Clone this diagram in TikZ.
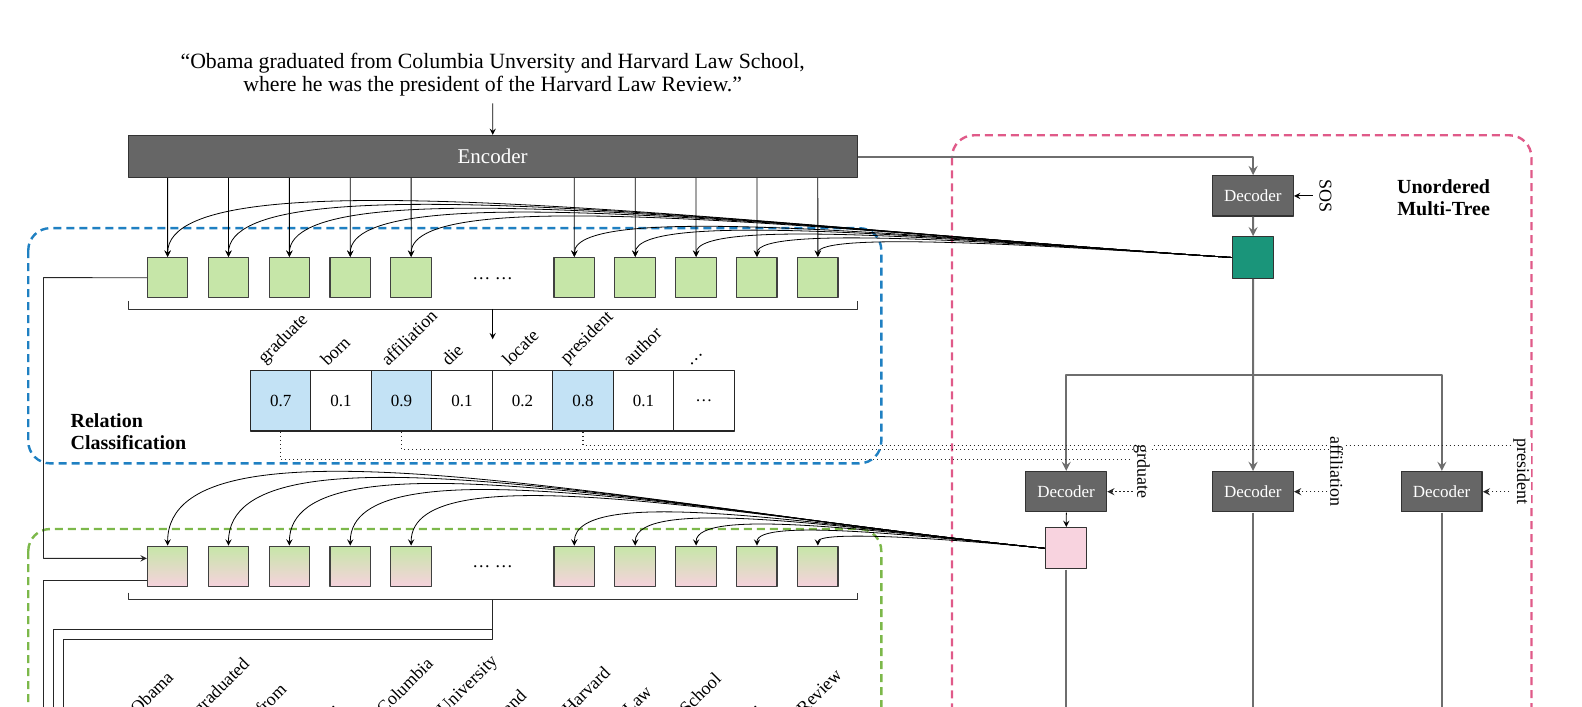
\documentclass[tikz,border=0pt]{standalone}
\usepackage{fontspec}
\setmainfont{Liberation Serif}
\usetikzlibrary{positioning,calc}
\definecolor{encgray}{HTML}{666666}
\definecolor{boxgreen}{HTML}{C6E6A8}
\definecolor{boxpink}{HTML}{F6D2DD}
\definecolor{relblue}{HTML}{C3E2F5}
\definecolor{rootteal}{HTML}{1A957A}
\definecolor{leafpink}{HTML}{F8D3DF}
\definecolor{rcblue}{HTML}{1F80C2}
\definecolor{tokgreen}{HTML}{7CB84A}
\definecolor{treepink}{HTML}{E05A89}
\definecolor{treegray}{HTML}{6E6E6E}
\tikzset{
	tok/.style={draw=black!75, line width=.6pt, fill=boxgreen, minimum width=20.2pt, minimum height=20.2pt, inner sep=0pt},
	tokmix/.style={tok, top color=boxgreen, bottom color=boxpink},
	dec/.style={draw=black!80, line width=.6pt, fill=encgray, text=white, minimum width=40.4pt, minimum height=20.2pt, font=\fontsize{8.5}{10}\selectfont},
	cell/.style={draw=black!85, line width=.6pt, minimum size=30.3pt, inner sep=0pt, font=\fontsize{8.5}{10}\selectfont},
	region/.style={line width=1.2pt, rounded corners=11pt, dash pattern=on 4pt off 2.5pt},
	tree/.style={treegray, line width=1pt},
	treearr/.style={tree, ->},
	dots/.style={black!85, line width=.6pt, dash pattern=on .6pt off 1.4pt, ->},
	rellab/.style={rotate=-90, fill=white, inner sep=.5pt}
}
\begin{document}
\begin{tikzpicture}[x=.5pt, y=-.5pt, scale=1.0095, >=stealth, line join=round, font=\fontsize{9}{10.8}\selectfont]
	\useasboundingbox (0,0) rectangle (1567.1,699.4);
	% vùng nét đứt
	\draw[region, rcblue] (28,226) rectangle (873,459);
	\draw[region, tokgreen] (28,524) rectangle (873,790);
	\draw[region, treepink] (943,134) rectangle (1517,790);
	
	\node[align=center, font=\fontsize{10.9}{11.6}\selectfont] (sent) at (488,74) {“Obama graduated from Columbia Unversity and Harvard Law School,\\ where he was the president of the Harvard Law Review.”};
	\node[draw=black!80, line width=.6pt, fill=encgray, text=white, minimum width=364.5pt, minimum height=21pt, font=\fontsize{10.5}{12}\selectfont] (enc) at (488,155) {Encoder};
	\draw[->] (sent) -- (enc);
	
	% hai hàng token
	\foreach \i/\x in {1/166,2/226.3,3/286.6,4/346.9,5/407.2,6/568.8,7/629.1,8/689.4,9/749.7,10/810}{
		\node[tok] (g\i) at (\x,275) {};
		\node[tokmix] (h\i) at (\x,561) {};
		\draw[->] (g\i |- enc.south) -- (g\i);
	}
	\node at (488,276) {\ldots\ \ldots};
	\node at (488,561) {\ldots\ \ldots};
	\draw[black!80] (127,298) -- (127,306) -- (849,306) -- (849,298);
	\draw[black!80] (127,587) -- (127,594) -- (849,594) -- (849,587);
	\coordinate (b1) at (488,306);
	\coordinate (b2) at (488,594);
	\coordinate (rtop) at (488,336);
	\draw[->] (b1) -- (rtop);
	
	% bảng phân loại quan hệ
	\foreach \v/\c/\r [count=\k] in {0.7/relblue/graduate, 0.1/white/born, 0.9/relblue/affiliation, 0.1/white/die, 0.2/white/locate, 0.8/relblue/president, 0.1/white/author, \ldots/white/\ldots}{
		\node[cell, fill=\c] (r\k) at ({278+59.9*(\k-1)},397) {\v};
		\node[rotate=45, anchor=south west, inner sep=1pt] at ({265+59.9*(\k-1)},367) {\r};
	}
	\node[align=left, anchor=west, font=\bfseries\fontsize{10}{11}\selectfont] (rc) at (63,428) {Relation\\Classification};
	
	% cây giải mã
	\node[dec] (d0) at (1241,194) {Decoder};
	\node[draw=black!80, line width=.6pt, fill=rootteal, minimum size=20.7pt, inner sep=0pt] (rt) at (1241,255) {};
	\node[dec] (d1) at (1056,487) {Decoder};
	\node[dec] (d2) at (1241,487) {Decoder};
	\node[dec] (d3) at (1428,487) {Decoder};
	\node[draw=black!80, line width=.6pt, fill=leafpink, minimum size=20.7pt, inner sep=0pt] (lf) at (1056,543) {};
	\node[rotate=-90] (sos) at (1313,194) {SOS};
	\node[align=center, font=\bfseries\fontsize{10}{11}\selectfont] (umt) at (1430,196) {Unordered\\Multi-Tree};
	\coordinate (sp) at (1241,371);
	\draw[treearr] (enc.east) -| (d0);
	\draw[treearr] (d0) -- (rt);
	\draw[tree] (rt) -- (sp);
	\draw[treearr] (sp) -| (d1);
	\draw[treearr] (sp) -- (d2);
	\draw[treearr] (sp) -| (d3);
	\draw[->] (sos.south) -- (d0.east);
	\draw[->] (d1) -- (lf);
	\draw[tree] (lf.south) -- ++(0,200);
	\draw[tree] (d2.south) -- ++(0,250);
	\draw[tree] (d3.south) -- ++(0,250);
	
	% đường cong về các token
	\foreach \i/\x in {1/166,2/226.3,3/286.6,4/346.9,5/407.2,6/568.8,7/629.1,8/689.4,9/749.7,10/810}{
		\pgfmathsetmacro{\da}{1221-\x}
		\pgfmathsetmacro{\db}{1035-\x}
		\draw[->] (rt.west) .. controls +({-0.45*\da},{-0.029*\da}) and +(0,{27-0.127*\da}) .. (g\i.north);
		\draw[->] (lf.west) .. controls +({-0.45*\db},{-0.045*\db}) and +(0,{30-0.2*\db}) .. (h\i.north);
	}
	
	% nét chấm tới các decoder
	\draw[dots] (r1.south) |- (1124,455) |- (d1.east);
	\draw[dots] (r3.south) |- (1318,445) |- (d2.east);
	\draw[dots] (r6.south) |- (1500,441) |- (d3.east);
	\node[rellab] at (1131,467) {grduate};
	\node[rellab] at (1324,467) {affiliation};
	\node[rellab] at (1507,467) {president};
	
	% nối bên trái
	\draw[->, black!85] (g1.west) -- (43,275) |- ($(h1.west)+(0,-8)$);
	\draw[black!85] ($(h1.west)+(0,14)$) -- (43,575) -- (43,790);
	\draw[black!85] (b2) |- (53,623) -- (53,790);
	\draw[black!85] (b2) |- (63,633) -- (63,790);
	
	% các từ của câu
	\foreach \w/\x/\y in {Obama/136/709, graduated/198/709, from/260/709, \ldots/320/712, Columbia/380/709, University/440/709, and/504/709, Harvard/564/709, Law/624/709, School/680/709, \ldots/738/712, Review/796/709}
		\node[rotate=45, anchor=base west, inner sep=0pt] at (\x,\y) {\w};
\end{tikzpicture}
\end{document}
